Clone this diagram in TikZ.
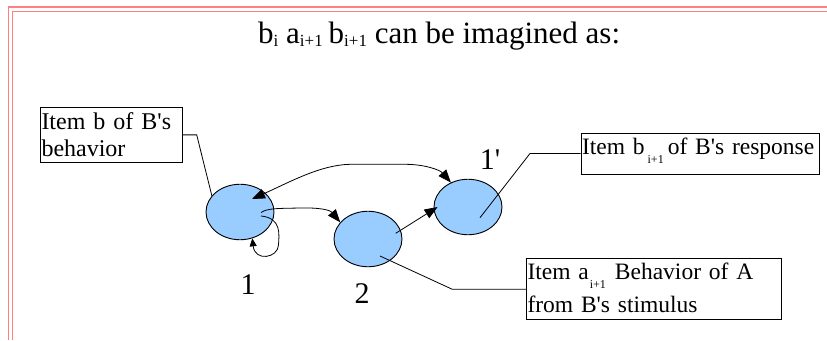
\documentclass[tikz,border=0pt]{standalone}
\usepackage{fontspec}
\setmainfont{Liberation Serif}[Ligatures=TeXOff]
\usetikzlibrary{shapes.geometric,arrows.meta}
\newcommand\mysub[3]{\raisebox{-#2}{\fontsize{#1}{#1}\selectfont #3}}
\definecolor{pinkline}{RGB}{255,128,128}
\definecolor{bubblefill}{RGB}{153,204,255}
\begin{document}
\begin{tikzpicture}[x=1pt,y=-1pt,
  bub/.style={ellipse, draw=black, line width=0.9pt, fill=bubblefill, minimum width=68pt, minimum height=55.5pt, inner sep=0pt},
  numtext/.style={font=\fontsize{30}{30}\selectfont, inner sep=0pt},
  textbox/.style={draw=black, line width=1pt, inner xsep=1pt, inner ysep=0pt, align=left, anchor=north west},
  leader/.style={line width=0.8pt},
  arr/.style={line width=0.8pt, -{Triangle[length=13pt,width=10pt]}},
  arrboth/.style={line width=0.8pt, {Triangle[length=13pt,width=10pt]}-{Triangle[length=13pt,width=10pt]}},
  arrsmall/.style={line width=0.8pt, -{Triangle[length=8pt,width=7pt]}}
]
\useasboundingbox (0,0) rectangle (827,340);
% page border
\draw[pinkline, line width=1.3pt] (8.3,340) -- (8.3,7) -- (827,7);
\draw[pinkline, line width=1.3pt] (12.3,340) -- (12.3,11.3) -- (827,11.3);
% title
\node[anchor=base west, inner sep=0pt, font=\fontsize{31}{31}\selectfont] (title) at (258,43.3)
  {b\mysub{17pt}{3pt}{i} a\mysub{17pt}{3pt}{i+1}\hspace{6pt}b\mysub{17pt}{3pt}{i+1} can be imagined as:};
% bubbles
\node[bub] (e1) at (240,212) {};
\node[bub] (e2) at (368,239) {};
\node[bub] (e3) at (468,207) {};
% number labels
\node[numtext] (l1) at (248,285) {1};
\node[numtext] (l2) at (362,294) {2};
\node[numtext] (l3) at (490,160) {1'};
% text boxes
\node[textbox, text width=139.5pt, text height=21.5pt, text depth=33.2pt,
      font=\fontsize{24}{27}\selectfont] (boxA) at (40,107)
  {Item b of B's\\behavior};
\node[textbox, text width=236.8pt, text height=21.5pt, text depth=19.5pt,
      font=\fontsize{23.5}{27}\selectfont] (boxB) at (580.5,132.5)
  {Item b\hspace{3pt}\mysub{12pt}{9pt}{i+1}\hspace{4pt}of B's response};
\node[textbox, text width=252.6pt, text height=20.7pt, text depth=40.3pt,
      font=\fontsize{23.5}{32.7}\selectfont] (boxC) at (526,258.3)
  {Item a\hspace{1pt}\mysub{12pt}{9pt}{i+1}\hspace{9pt}Behavior of A\\from B's stimulus};
% inner points
\coordinate (e3in) at (480,217.7);
\coordinate (e2in) at (380,256);
\coordinate (e2out) at (395.7,233.3);
\coordinate (e1a) at (261,212.5);
\coordinate (e1top) at (252,199);
\coordinate (loopstart) at (261,216);
% leaders
\draw[leader] (boxA.east) -- ++(14.2,0) -- (e1.150);
\draw[leader] (boxB.west) -- ++(-50.5,0) -- (e3in);
\draw[leader] (boxC.west) -- ++(-73.7,0) -- (e2in);
% arrows
\draw[arr] (e2out) -- ([xshift=4pt]e3.west);
\draw[arr] (e1a) .. controls (268,208) and (278,208.5) .. (300,208)
  .. controls (320,207.5) and (330,210) .. (e2.149);
\draw[arrboth] (e1top) .. controls (290,182) and (320,165) .. (350,164.3)
  -- (405,164.3) .. controls (425,164.3) and (440,170) .. (e3.125);
\draw[arrsmall] (loopstart) .. controls (282,218) and (279,235) .. (278.5,245)
  .. controls (278,258) and (255,262) .. (e1.-65);
\end{tikzpicture}
\end{document}
